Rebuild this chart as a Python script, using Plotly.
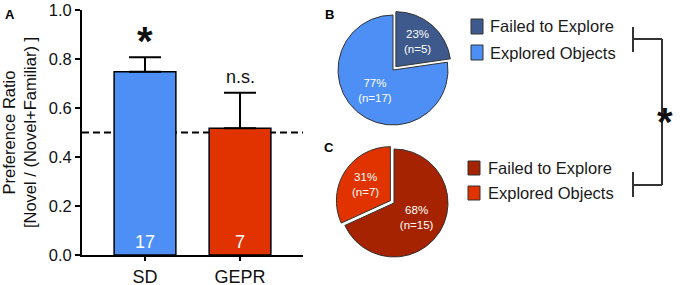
import plotly.graph_objects as go

W, H = 686, 285
FONT = "Liberation Sans, Arial, sans-serif"

# ---- data ----
groups = ["SD", "GEPR"]
pref_ratio = [0.748, 0.517]
pref_sem = [0.059, 0.145]
group_n = [17, 7]
bar_colors = ["#4d8ff5", "#e03300"]
sig_labels = ["*", "n.s."]

pie_labels = ["Failed to Explore", "Explored Objects"]
sd_counts = [5, 17]
sd_pct = ["23%", "77%"]
sd_colors = ["#3e5a8c", "#4d8ff5"]
gepr_counts = [15, 7]
gepr_pct = ["68%", "31%"]
gepr_colors = ["#a52300", "#e03300"]


def px(x):
    return x / W


def py(y):
    return 1 - y / H


def pie_domain(cx, cy, r, pull):
    half = r * (1 + pull)
    return dict(x=[px(cx - half), px(cx + half)], y=[py(cy + half), py(cy - half)])


fig = go.Figure()

fig.add_trace(go.Bar(
    x=groups, y=pref_ratio, width=0.65,
    marker=dict(color=bar_colors, line=dict(color="black", width=1.5)),
    error_y=dict(type="data", array=pref_sem, arrayminus=[0] * len(pref_sem), symmetric=False,
                 color="black", thickness=2, width=16),
    text=[str(n) for n in group_n], textposition="inside", insidetextanchor="start",
    textfont=dict(color="white", size=18, family=FONT), textangle=0,
    hoverinfo="skip", showlegend=False,
))

pull_b = 0.08
pull_c = 0.08
fig.add_trace(go.Pie(
    labels=pie_labels, values=sd_counts, sort=False, direction="clockwise", rotation=0,
    marker=dict(colors=sd_colors, line=dict(color="#333333", width=1)),
    pull=[pull_b, 0],
    text=[f"{p}<br>(n={n})" for p, n in zip(sd_pct, sd_counts)], textinfo="text",
    textposition="inside", insidetextorientation="horizontal",
    textfont=dict(color="white", size=11.5, family=FONT),
    domain=pie_domain(393, 70, 55, pull_b), showlegend=False, hoverinfo="skip",
))
fig.add_trace(go.Pie(
    labels=pie_labels, values=gepr_counts, sort=False, direction="clockwise", rotation=0,
    marker=dict(colors=gepr_colors, line=dict(color="#333333", width=1)),
    pull=[0, pull_c],
    text=[f"{p}<br>(n={n})" for p, n in zip(gepr_pct, gepr_counts)], textinfo="text",
    textposition="inside", insidetextorientation="horizontal",
    textfont=dict(color="white", size=11.5, family=FONT),
    domain=pie_domain(394, 203, 54, pull_c), showlegend=False, hoverinfo="skip",
))

shapes = []
# chance line
shapes.append(dict(type="line", xref="x domain", yref="y", x0=0, x1=1, y0=0.5, y1=0.5,
                   line=dict(color="black", width=2, dash="7px,4px"), layer="below"))


def swatch(x0, y0, x1, y1, color):
    return dict(type="rect", xref="paper", yref="paper", x0=px(x0), x1=px(x1), y0=py(y1), y1=py(y0),
                fillcolor=color, line=dict(color="#333333", width=1))


annotations = []
for i, lab in enumerate(pie_labels):
    yc = 26.5 + 26 * i
    shapes.append(swatch(471, yc - 7.5, 483, yc + 7.5, sd_colors[i]))
    annotations.append(dict(x=px(488), y=py(yc), xref="paper", yref="paper", text=lab, showarrow=False,
                            xanchor="left", yanchor="middle", font=dict(size=16.5, color="#1a1a1a", family=FONT)))
    yc2 = 168 + 25 * i
    shapes.append(swatch(468, yc2 - 7, 480, yc2 + 7, gepr_colors[i]))
    annotations.append(dict(x=px(486), y=py(yc2), xref="paper", yref="paper", text=lab, showarrow=False,
                            xanchor="left", yanchor="middle", font=dict(size=16.5, color="#1a1a1a", family=FONT)))


def seg(x0, y0, x1, y1):
    return dict(type="line", xref="paper", yref="paper", x0=px(x0), x1=px(x1), y0=py(y0), y1=py(y1),
                line=dict(color="#333333", width=2))


shapes += [seg(633, 27, 633, 52), seg(633, 39, 662, 39),
           seg(633, 172, 633, 197), seg(633, 185, 662, 185),
           seg(662, 39, 662, 185)]

# significance labels above bars
for g, v, e, s in zip(groups, pref_ratio, pref_sem, sig_labels):
    big = s == "*"
    annotations.append(dict(x=g, y=v + e, xref="x", yref="y", text=f"<b>{s}</b>" if big else s,
                            showarrow=False, yanchor="bottom", yshift=-8 if big else 4,
                            font=dict(size=40 if big else 18, color="#111111", family=FONT)))

annotations.append(dict(x=px(675), y=py(114), xref="paper", yref="paper", text="<b>*</b>", showarrow=False,
                        yanchor="middle", yshift=-8, font=dict(size=40, color="#111111", family=FONT)))

# panel letters
for letter, (lx, ly) in {"A": (10, 14), "B": (329, 14), "C": (329, 148)}.items():
    annotations.append(dict(x=px(lx), y=py(ly), xref="paper", yref="paper", text=f"<b>{letter}</b>",
                            showarrow=False, xanchor="center", yanchor="middle",
                            font=dict(size=13, color="black", family=FONT)))

fig.update_layout(
    width=W, height=H, margin=dict(l=0, r=0, t=0, b=0, autoexpand=False),
    paper_bgcolor="white", plot_bgcolor="white",
    font=dict(family=FONT, color="black"),
    xaxis=dict(domain=[px(82), px(303)], range=[-0.663, 1.663], showline=True, linecolor="black",
               linewidth=2, ticks="outside", ticklen=4, tickwidth=2, tickcolor="black", automargin=False,
               tickfont=dict(size=18, family=FONT, color="#111111"), showgrid=False, zeroline=False),
    yaxis=dict(domain=[py(255), py(10)], range=[0, 1.0], showline=True, linecolor="black", linewidth=2,
               ticks="outside", ticklen=5, tickwidth=2, tickcolor="black", automargin=False,
               tickvals=[0, 0.2, 0.4, 0.6, 0.8, 1.0],
               ticktext=["0.0", "0.2", "0.4", "0.6", "0.8", "1.0"],
               tickfont=dict(size=16.5, family=FONT, color="#111111"), showgrid=False, zeroline=False,
               title=dict(text="Preference Ratio<br>[Novel / (Novel+Familiar) ]",
                          font=dict(size=16.5, family=FONT, color="#111111"), standoff=10)),
    shapes=shapes, annotations=annotations,
)

fig.write_html("out.html", config={"displayModeBar": False, "staticPlot": True},
               post_script="document.body.style.margin='0';document.body.style.overflow='hidden';")
